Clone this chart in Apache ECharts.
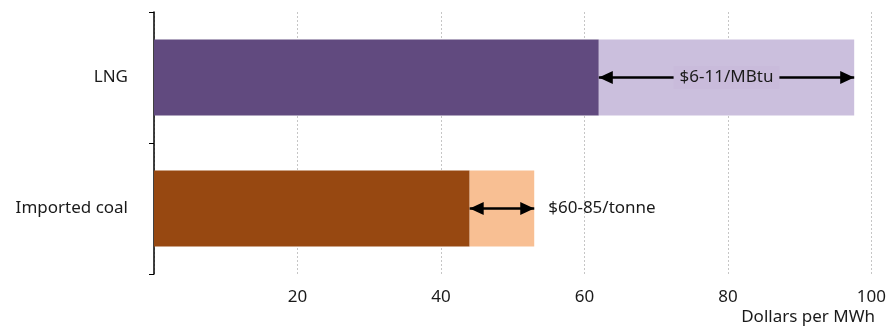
<!DOCTYPE html>
<html>
<head>
<meta charset="utf-8">
<script src="https://cdn.jsdelivr.net/npm/echarts@6/dist/echarts.min.js"></script>
<style>
  html, body { margin: 0; padding: 0; background: #fff; }
  #chart { width: 889px; height: 330px; }
</style>
</head>
<body>
<div id="chart"></div>
<script>
// Generation cost ranges, dollars per MWh
const categories = ['Imported coal', 'LNG'];
const lowCost = [44, 62];
const highCost = [53, 97.6];
const rangeLabels = ['$60-85/tonne', '$6-11/MBtu'];
const xTicks = [0, 20, 40, 60, 80, 100];

const darkColors = ['#974811', '#614A7F'];
const lightColors = ['#F8BF93', '#CBBFDD'];

const FONT = 'Noto Sans';
const FS = 17;

const spread = highCost.map((h, i) => h - lowCost[i]);

const arrowLabels = [
  { show: true, position: 'end', formatter: rangeLabels[0], color: '#1a1a1a',
    fontFamily: FONT, fontSize: FS, distance: 14 },
  { show: true, position: 'insideMiddle', formatter: rangeLabels[1], color: '#1a1a1a',
    fontFamily: FONT, fontSize: FS, backgroundColor: '#C9BBDB', padding: [3, 6] }
];

const chart = echarts.init(document.getElementById('chart'));
chart.setOption({
  animation: false,
  grid: { left: 154, right: 17, top: 12, bottom: 56 },
  xAxis: {
    type: 'value',
    min: xTicks[0],
    max: xTicks[xTicks.length - 1],
    interval: 20,
    axisLine: { show: false },
    axisTick: { show: false },
    axisLabel: {
      margin: 15, color: '#1a1a1a', fontFamily: FONT, fontSize: FS,
      formatter: v => (v === 0 ? '' : String(v))
    },
    splitLine: { show: true, lineStyle: { color: '#c6c6c6', type: [2, 2], width: 1 } }
  },
  yAxis: {
    type: 'category',
    data: categories,
    axisLine: { show: true, lineStyle: { color: '#000', width: 1.5 } },
    axisTick: { show: true, length: 5, lineStyle: { color: '#000' } },
    axisLabel: { margin: 26, color: '#1a1a1a', fontFamily: FONT, fontSize: FS }
  },
  series: [
    {
      type: 'bar',
      stack: 'cost',
      barWidth: '58%',
      data: lowCost.map((v, i) => ({ value: v, itemStyle: { color: darkColors[i] } }))
    },
    {
      type: 'bar',
      stack: 'cost',
      barWidth: '58%',
      data: spread.map((v, i) => ({ value: v, itemStyle: { color: lightColors[i] } })),
      markLine: {
        silent: true,
        symbol: ['triangle', 'triangle'],
        symbolSize: [13, 14],
        symbolOffset: [[0, 7], [0, 7]],
        data: categories.map((c, i) => [
          { coord: [lowCost[i], c], lineStyle: { color: '#000', width: 2.5, type: 'solid' },
            label: arrowLabels[i] },
          { coord: [highCost[i], c] }
        ])
      }
    }
  ],
  graphic: [{
    type: 'text',
    right: 14,
    top: 309,
    style: { text: 'Dollars per MWh', fill: '#1a1a1a', font: FS + 'px "Noto Sans"' }
  }]
});
</script>
</body>
</html>
